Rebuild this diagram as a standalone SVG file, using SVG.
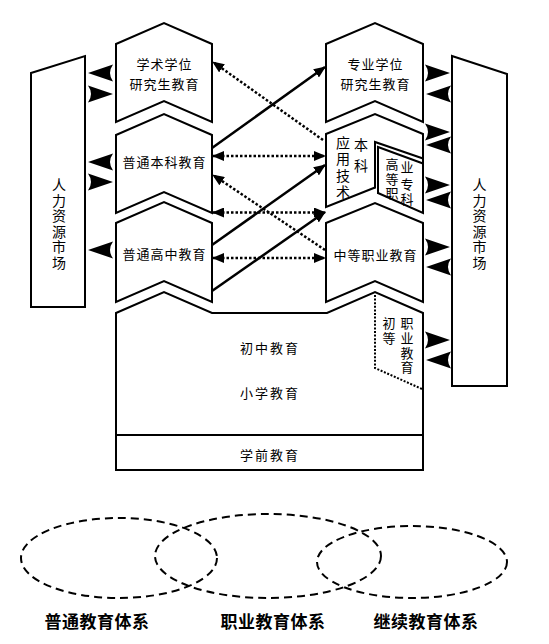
<svg xmlns="http://www.w3.org/2000/svg" width="549" height="644" viewBox="0 0 549 644">
<style>
.sh{fill:#fff;stroke:#000;stroke-width:2;stroke-linejoin:miter}
.ln{fill:none;stroke:#000;stroke-width:2}
.t{font-family:"Noto Sans CJK SC","Noto Sans",sans-serif;font-size:13px;fill:#000;text-anchor:middle;dominant-baseline:central;letter-spacing:1px}
.v{font-size:14px;letter-spacing:0}
.s{font-size:13px;letter-spacing:0}
.sol{fill:none;stroke:#000;stroke-width:2.5}
.dot{fill:none;stroke:#000;stroke-width:2.5;stroke-dasharray:2.5 2}
.dot2{fill:none;stroke:#000;stroke-width:2;stroke-dasharray:2 1.6}
.ell{fill:none;stroke:#000;stroke-width:2;stroke-dasharray:8 5}
.lab{font-family:"Noto Sans CJK SC","Noto Sans",sans-serif;font-size:17px;font-weight:bold;fill:#000;text-anchor:middle;dominant-baseline:central;letter-spacing:0.5px}
</style>
<defs>
<marker id="tri" viewBox="0 0 12 10" refX="11" refY="5" markerWidth="12" markerHeight="10" markerUnits="userSpaceOnUse" orient="auto-start-reverse"><path d="M0,0 L12,5 L0,10 Z" fill="#000"/></marker>
<path id="ahl" d="M0,0 L25,-8.5 Q19,0 25,8.5 Z" fill="#000"/>
<path id="ahr" d="M0,0 L-25,-8.5 Q-19,0 -25,8.5 Z" fill="#000"/>
</defs>

<g id="hr-left">
<path class="sh" d="M31,73 L85,56 L85,307 L31,307 Z"/>
<text class="t v"><tspan x="59" y="184">人</tspan><tspan x="59" y="199.5">力</tspan><tspan x="59" y="215">资</tspan><tspan x="59" y="230.5">源</tspan><tspan x="59" y="246">市</tspan><tspan x="59" y="261.5">场</tspan></text>
</g>
<g id="hr-right">
<path class="sh" d="M452,56 L507,74 L507,386 L452,386 Z"/>
<text class="t v"><tspan x="479.5" y="184">人</tspan><tspan x="479.5" y="199.5">力</tspan><tspan x="479.5" y="215">资</tspan><tspan x="479.5" y="230.5">源</tspan><tspan x="479.5" y="246">市</tspan><tspan x="479.5" y="261.5">场</tspan></text>
</g>

<g id="academic-grad">
<path class="sh" d="M116,44 L164,23 L212,44 L212,122 L164,101 L116,122 Z"/>
<text class="t" x="164.5" y="63">学术学位</text>
<text class="t" x="164.5" y="83">研究生教育</text>
</g>
<g id="undergrad">
<path class="sh" d="M116,135 L164,114 L212,135 L212,213 L164,192 L116,213 Z"/>
<text class="t" x="164.5" y="161">普通本科教育</text>
</g>
<g id="highschool">
<path class="sh" d="M116,223 L164,202 L212,223 L212,302 L164,281 L116,302 Z"/>
<text class="t" x="164.5" y="253">普通高中教育</text>
</g>

<g id="professional-grad">
<path class="sh" d="M326,44 L375,23 L423,44 L423,122 L375,101 L326,122 Z"/>
<text class="t" x="375.5" y="63">专业学位</text>
<text class="t" x="375.5" y="83">研究生教育</text>
</g>
<g id="applied-undergrad">
<path d="M326,134 L375,114 L423,134 L423,213 L378,193 L375,188 L326,207 Z" fill="#fff" stroke="none"/>
<path class="ln" d="M378,193 L423,213 L423,134 L375,114 L326,134 L326,207 L375,187.5"/>
<path class="ln" d="M375,188.5 L375,142 L423,158.5"/>
<path class="ln" d="M378,194 L378,147 L423,163.5"/>
<text class="t v"><tspan x="343" y="142">应</tspan><tspan x="343" y="158">用</tspan><tspan x="343" y="175">技</tspan><tspan x="343" y="191">术</tspan></text>
<text class="t v"><tspan x="361" y="144">本</tspan><tspan x="361" y="165">科</tspan></text>
<text class="t s"><tspan x="392" y="163">高</tspan><tspan x="392" y="178">等</tspan><tspan x="392" y="192">职</tspan></text>
<text class="t s"><tspan x="407" y="166">业</tspan><tspan x="407" y="183">专</tspan><tspan x="407" y="198">科</tspan></text>
</g>
<g id="secondary-vocational">
<path class="sh" d="M326,223 L375,203 L423,223 L423,302 L375,281 L326,302 Z"/>
<text class="t" x="375.5" y="254">中等职业教育</text>
</g>

<g id="basic-education">
<path class="sh" d="M116,313 L164,292 L212,313 L327,313 L375,292 L423,313 L423,470 L116,470 Z"/>
<line class="ln" x1="116" y1="435" x2="423" y2="435"/>
<text class="t" x="270" y="347" style="letter-spacing:2px">初中教育</text>
<text class="t" x="270" y="392" style="letter-spacing:2px">小学教育</text>
<text class="t" x="270" y="454" style="letter-spacing:2px">学前教育</text>
</g>
<g id="primary-vocational">
<path class="dot2" d="M375,295 L375,368 L422,389"/>
<text class="t s"><tspan x="389" y="322">初</tspan><tspan x="389" y="337">等</tspan></text>
<text class="t s"><tspan x="407" y="322">职</tspan><tspan x="407" y="337">业</tspan><tspan x="407" y="352">教</tspan><tspan x="407" y="366">育</tspan></text>
</g>

<g id="connectors">
<path class="sol" d="M212,148 L325,67" marker-end="url(#tri)"/>
<path class="sol" d="M212,245 L325,165" marker-end="url(#tri)"/>
<path class="sol" d="M212,291 L325,212" marker-end="url(#tri)"/>
<path class="dot" d="M323,140 L213,62" marker-end="url(#tri)"/>
<path class="dot" d="M213,156 L325,156" marker-start="url(#tri)" marker-end="url(#tri)"/>
<path class="dot" d="M325,250 L213,175" marker-end="url(#tri)"/>
<path class="dot" d="M213,212.5 L325,212.5" marker-start="url(#tri)" marker-end="url(#tri)"/>
<path class="dot" d="M213,258 L325,258" marker-start="url(#tri)" marker-end="url(#tri)"/>
<use href="#ahl" x="88" y="73"/>
<use href="#ahr" x="113" y="94"/>
<use href="#ahl" x="88" y="162"/>
<use href="#ahr" x="113" y="182"/>
<use href="#ahl" x="88" y="250"/>
<use href="#ahr" x="450" y="73"/>
<use href="#ahl" x="426" y="94"/>
<use href="#ahr" x="450" y="132"/>
<use href="#ahl" x="426" y="145"/>
<use href="#ahr" x="450" y="185"/>
<use href="#ahl" x="426" y="200"/>
<use href="#ahr" x="450" y="247"/>
<use href="#ahl" x="426" y="267"/>
<use href="#ahr" x="450" y="340"/>
<use href="#ahl" x="426" y="360"/>
</g>

<g id="systems">
<ellipse class="ell" cx="119" cy="558" rx="98" ry="40"/>
<ellipse class="ell" cx="268" cy="556" rx="113" ry="42"/>
<ellipse class="ell" cx="412" cy="562" rx="95" ry="36"/>
<text class="lab" x="97" y="620">普通教育体系</text>
<text class="lab" x="273" y="620">职业教育体系</text>
<text class="lab" x="426" y="620">继续教育体系</text>
</g>
</svg>
